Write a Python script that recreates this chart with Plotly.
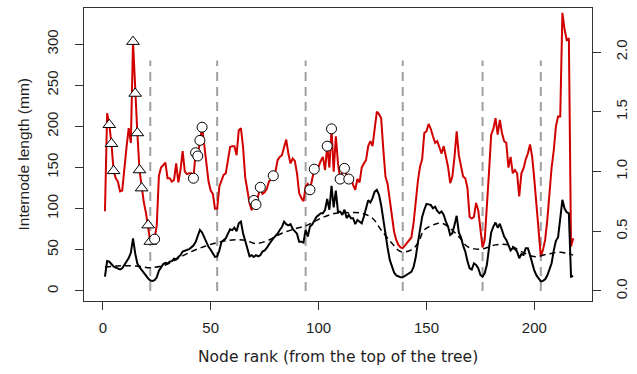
import plotly.graph_objects as go

# ---- data ----
nodes = list(range(1, 219))

internode_mm = [
    97, 216, 202, 179, 146, 137, 133, 121, 122, 151,
    175, 198, 180, 303, 240, 192, 147, 125, 108, 95,
    80, 60, 61, 63, 80, 140, 150, 153, 156, 137,
    137, 133, 135, 155, 132, 147, 170, 145, 142, 143,
    143, 137, 168, 164, 183, 199, 178, 151, 133, 122,
    118, 100, 100, 127, 135, 141, 143, 160, 175, 176,
    176, 165, 195, 198, 175, 138, 123, 107, 98, 110,
    105, 115, 126, 118, 120, 124, 133, 136, 140, 145,
    159, 163, 165, 174, 184, 167, 155, 161, 158, 143,
    119, 113, 109, 127, 130, 123, 135, 148, 150, 151,
    158, 163, 147, 176, 150, 197, 145, 188, 155, 136,
    145, 149, 140, 136, 140, 129, 123, 136, 132, 150,
    155, 159, 176, 182, 176, 200, 218, 215, 210, 172,
    139, 130, 110, 95, 72, 62, 56, 53, 52, 55,
    58, 62, 65, 82, 112, 133, 151, 160, 192, 194,
    203, 197, 188, 180, 182, 174, 167, 176, 165, 151,
    131, 139, 163, 194, 165, 151, 139, 137, 125, 90,
    88, 90, 107, 98, 75, 53, 62, 100, 145, 190,
    197, 210, 190, 208, 192, 182, 180, 150, 163, 143,
    147, 143, 115, 143, 149, 160, 167, 178, 163, 135,
    107, 75, 42, 50, 62, 86, 119, 150, 171, 200,
    212, 212, 338, 318, 305, 307, 54, 64,
]

right_series = [
    0.12, 0.25, 0.245, 0.22, 0.205, 0.195, 0.19, 0.18, 0.19, 0.215,
    0.24, 0.275, 0.32, 0.44, 0.316, 0.23, 0.2, 0.175, 0.15, 0.125,
    0.105, 0.088, 0.084, 0.09, 0.115, 0.17, 0.204, 0.225, 0.235, 0.23,
    0.245, 0.25, 0.27, 0.265, 0.285, 0.3, 0.33, 0.335, 0.344, 0.35,
    0.365, 0.38, 0.41, 0.47, 0.511, 0.49, 0.45, 0.40, 0.37, 0.345,
    0.31, 0.285, 0.29, 0.34, 0.41, 0.43, 0.441, 0.48, 0.517, 0.51,
    0.53, 0.50, 0.567, 0.581, 0.483, 0.42, 0.35, 0.29, 0.30, 0.285,
    0.30, 0.29, 0.30, 0.33, 0.34, 0.36, 0.39, 0.42, 0.44, 0.46,
    0.48, 0.511, 0.535, 0.58, 0.56, 0.55, 0.56, 0.52, 0.50, 0.48,
    0.413, 0.413, 0.405, 0.511, 0.455, 0.539, 0.555, 0.595, 0.62, 0.635,
    0.651, 0.651, 0.68, 0.77, 0.68, 0.88, 0.70, 0.84, 0.66, 0.665,
    0.637, 0.68, 0.61, 0.637, 0.609, 0.609, 0.56, 0.595, 0.58, 0.567,
    0.623, 0.70, 0.76, 0.74, 0.777, 0.832, 0.846, 0.805, 0.72, 0.60,
    0.47, 0.36, 0.26, 0.20, 0.155, 0.13, 0.12, 0.115, 0.115, 0.126,
    0.135, 0.145, 0.16, 0.2, 0.28, 0.40, 0.511, 0.62, 0.68, 0.729,
    0.725, 0.72, 0.693, 0.706, 0.67, 0.651, 0.665, 0.637, 0.581, 0.54,
    0.469, 0.483, 0.553, 0.629, 0.49, 0.45, 0.38, 0.33, 0.25, 0.19,
    0.18, 0.232, 0.218, 0.19, 0.134, 0.12, 0.15, 0.22, 0.36, 0.49,
    0.539, 0.573, 0.53, 0.562, 0.511, 0.455, 0.427, 0.38, 0.34, 0.36,
    0.35, 0.33, 0.274, 0.31, 0.302, 0.358, 0.358, 0.3, 0.23, 0.17,
    0.13, 0.1, 0.08, 0.085, 0.098, 0.13, 0.18, 0.232, 0.34, 0.42,
    0.45, 0.6, 0.763, 0.69, 0.66, 0.65, 0.12, 0.126,
]

trend_nodes = [1, 7, 12, 18, 22, 29, 35, 41, 47, 53, 60, 66, 71, 77, 83, 89,
               95, 101, 108, 114, 120, 125, 129, 134, 138, 143, 146, 149, 154,
               157, 160, 165, 169, 175, 182, 188, 194, 200, 206, 212, 218]
trend_vals = [0.2, 0.21, 0.212, 0.204, 0.195, 0.218, 0.274, 0.33, 0.372, 0.405,
              0.427, 0.425, 0.397, 0.427, 0.483, 0.52, 0.553, 0.609, 0.651,
              0.656, 0.651, 0.609, 0.511, 0.4, 0.33, 0.344, 0.4, 0.511, 0.559,
              0.567, 0.539, 0.455, 0.372, 0.35, 0.386, 0.386, 0.33, 0.288,
              0.308, 0.324, 0.3]

triangle_nodes = [3, 4, 5, 14, 15, 16, 17, 18, 21, 22]
circle_nodes = [24, 42, 43, 44, 45, 46, 70, 71, 73, 79, 96, 98, 104, 106, 110, 112, 114]

vline_nodes = [22, 53, 94, 139, 176, 203]
vline_top = 280

x_ticks = [0, 50, 100, 150, 200]
y_ticks = [0, 50, 100, 150, 200, 250, 300]
y2_ticks = [0.0, 0.5, 1.0, 1.5, 2.0]
y2_labels = ["0.0", "0.5", "1.0", "1.5", "2.0"]

# ---- figure ----
FONT = "Liberation Sans, Arial, sans-serif"
WIDE = "DejaVu Sans, Liberation Sans, sans-serif"
TXT = "#1e1e1e"
fig = go.Figure()

vx, vy = [], []
for v in vline_nodes:
    vx += [v, v, None]
    vy += [0, vline_top, None]
fig.add_trace(go.Scatter(x=vx, y=vy, mode="lines",
                         line=dict(color="#a0a0a0", width=2, dash="9px,6px"),
                         hoverinfo="skip", showlegend=False))

fig.add_trace(go.Scatter(x=nodes, y=internode_mm, mode="lines",
                         line=dict(color="#d10000", width=2), showlegend=False))

fig.add_trace(go.Scatter(x=triangle_nodes,
                         y=[internode_mm[n - 1] for n in triangle_nodes],
                         mode="markers",
                         marker=dict(symbol="triangle-up", size=11, color="white",
                                     line=dict(color="black", width=1)),
                         showlegend=False))
fig.add_trace(go.Scatter(x=circle_nodes,
                         y=[internode_mm[n - 1] for n in circle_nodes],
                         mode="markers",
                         marker=dict(symbol="circle", size=10, color="white",
                                     line=dict(color="black", width=1)),
                         showlegend=False))

fig.add_trace(go.Scatter(x=trend_nodes, y=trend_vals, yaxis="y2", mode="lines",
                         line=dict(color="black", width=1.5, dash="6px,4px",
                                   shape="spline", smoothing=1.0),
                         showlegend=False))
fig.add_trace(go.Scatter(x=nodes, y=right_series, yaxis="y2", mode="lines",
                         line=dict(color="black", width=2), showlegend=False))

axis_common = dict(showgrid=False, zeroline=False, ticks="outside", ticklen=8,
                   tickwidth=1, tickcolor="#333", linecolor="#333", linewidth=1,
                   automargin=False,
                   tickfont=dict(family=FONT, size=15, color=TXT))

fig.update_layout(
    width=637, height=374,
    margin=dict(l=84, r=45, t=8, b=73, autoexpand=False),
    paper_bgcolor="white", plot_bgcolor="white",
    font=dict(family=FONT, size=15, color=TXT),
    xaxis=dict(range=[-8.72, 226.72], tickvals=x_ticks, showline=True,
               mirror=True, ticklabelstandoff=5, **axis_common),
    yaxis=dict(range=[-12.2, 343.9], tickvals=y_ticks, showline=True,
               mirror=True, tickangle=-90, ticklabelstandoff=11, **axis_common),
    yaxis2=dict(range=[-0.0838, 2.369], tickvals=y2_ticks, ticktext=y2_labels,
                overlaying="y", side="right", showline=False, tickangle=-90,
                ticklabelstandoff=8, **axis_common),
    annotations=[
        dict(text="Internode length (mm)", xref="paper", yref="paper",
             x=0, y=0.5, xshift=-61, xanchor="center", yanchor="middle",
             textangle=-90, showarrow=False,
             font=dict(family=FONT, size=15.5, color=TXT)),
        dict(text="Node rank (from the top of the tree)", xref="paper",
             yref="paper", x=0.5, y=0, yshift=-56, xanchor="center",
             yanchor="middle", showarrow=False,
             font=dict(family=WIDE, size=15.5, color=TXT)),
    ],
)

fig.write_html("out.html")
